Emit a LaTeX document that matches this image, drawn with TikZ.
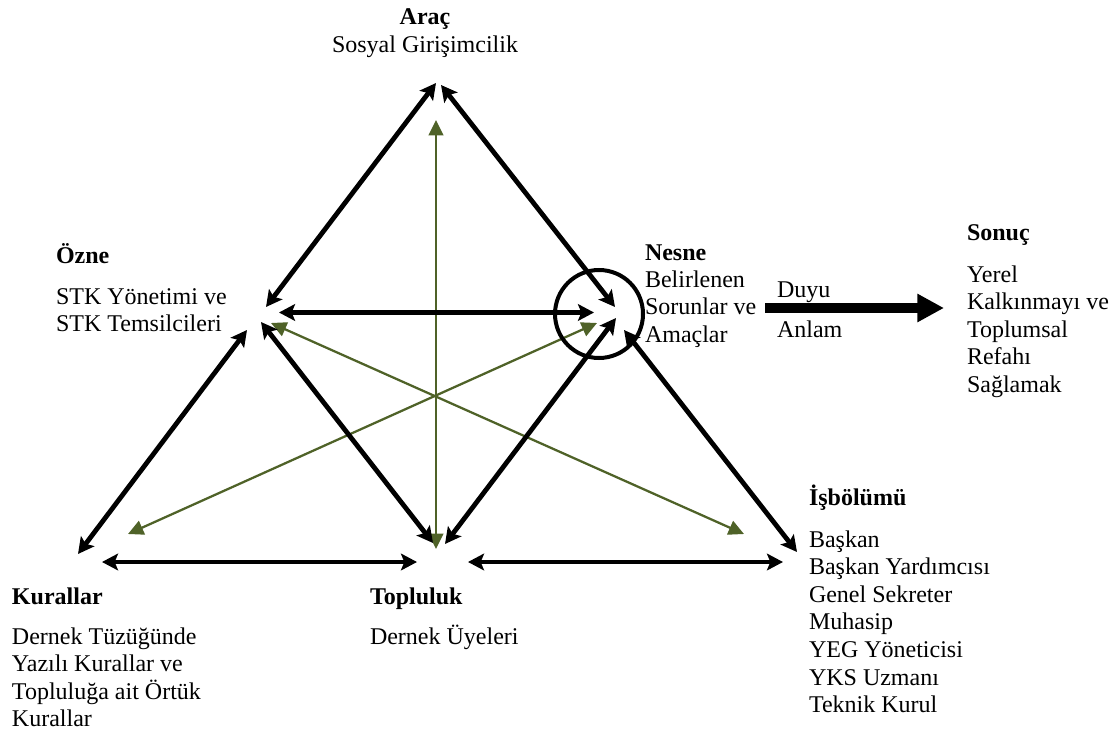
\documentclass[tikz,border=0pt]{standalone}
\usepackage{fontspec}
\setmainfont{Liberation Serif}
\usetikzlibrary{arrows.meta}
\definecolor{olivegreen}{HTML}{4F6228}
\newcommand\txtstack[1]{\begin{tabular}[t]{@{}l@{}}#1\end{tabular}}
\begin{document}
\begin{tikzpicture}[x=0.75pt,y=-0.75pt,
  lbl/.style={anchor=base west, inner sep=0pt, outer sep=0pt, font=\fontsize{18pt}{20.7pt}\selectfont},
  hdr/.style={lbl, font=\fontsize{18pt}{20.7pt}\selectfont\bfseries},
  blk/.style={line width=3.6pt, black, <->, >={Stealth[length=12pt,width=12.5pt,inset=2.5pt]}},
  grn/.style={line width=1.7pt, olivegreen, <->, >={Triangle[length=11.5pt,width=11pt]}},
  big/.style={line width=7.5pt, black, -{Triangle[length=20pt,width=20pt]}},
  ring/.style={circle, draw, line width=3pt, minimum size=66pt, inner sep=0pt}
]
\useasboundingbox (0,0) rectangle (1119,734);

% texts
\node[hdr, anchor=base] (arac) at (425,25) {Araç};
\node[lbl, anchor=base] (aracT) at (425,53) {Sosyal Girişimcilik};
\node[hdr] (ozne) at (56,263) {Özne};
\node[lbl] (ozneT) at (56,304) {\txtstack{STK Yönetimi ve\\STK Temsilcileri}};
\node[hdr] (nesne) at (645,260) {Nesne};
\node[lbl] (nesneT) at (645,287) {\txtstack{Belirlenen\\Sorunlar ve\\Amaçlar}};
\node[lbl] (duyu) at (777,297) {Duyu};
\node[lbl] (anlam) at (777,337) {Anlam};
\node[hdr] (sonuc) at (967,240) {Sonuç};
\node[lbl] (sonucT) at (967,282) {\txtstack{Yerel\\Kalkınmayı ve\\Toplumsal\\Refahı\\Sağlamak}};
\node[hdr] (kural) at (12,604) {Kurallar};
\node[lbl] (kuralT) at (12,644) {\txtstack{Dernek Tüzüğünde\\Yazılı Kurallar ve\\Topluluğa ait Örtük\\Kurallar}};
\node[hdr] (topl) at (370,604) {Topluluk};
\node[lbl] (toplT) at (370,644) {Dernek Üyeleri};
\node[hdr] (isb) at (809,505) {İşbölümü};
\node[lbl] (isbT) at (809,547) {\txtstack{Başkan\\Başkan Yardımcısı\\Genel Sekreter\\Muhasip\\YEG Yöneticisi\\YKS Uzmanı\\Teknik Kurul}};

% connector end points
\coordinate (aracL) at (436,83);
\coordinate (aracR) at (441,85);
\coordinate (ozneU) at (266,307);
\coordinate (ozneR) at (279,312.5);
\coordinate (ozneD) at (247,330);
\coordinate (ozneDR) at (261,322);
\coordinate (nesneU) at (615,307);
\coordinate (nesneL) at (594,312.5);
\coordinate (nesneDL) at (616,318);
\coordinate (nesneDR) at (624,330);
\coordinate (kurU) at (78,554);
\coordinate (kurR) at (102,562);
\coordinate (topUL) at (433,543);
\coordinate (topUR) at (445,544);
\coordinate (topL) at (417,562);
\coordinate (topR) at (468,562);
\coordinate (isbU) at (797,552);
\coordinate (isbL) at (783,562);
\coordinate (aracG) at (436,120);
\coordinate (topG) at (436,549);
\coordinate (kurG) at (128,534);
\coordinate (nesneG) at (597,323);
\coordinate (ozneG) at (271,323);
\coordinate (isbG) at (744,534);
\coordinate (duyuS) at (765,308);
\coordinate (sonucE) at (944,308);

% green connectors
\draw[grn] (aracG) -- (topG);
\draw[grn] (kurG) -- (nesneG);
\draw[grn] (ozneG) -- (isbG);

% black connectors
\draw[blk] (aracL) -- (ozneU);
\draw[blk] (aracR) -- (nesneU);
\draw[blk] (ozneR) -- (nesneL);
\draw[blk] (kurU) -- (ozneD);
\draw[blk] (ozneDR) -- (topUL);
\draw[blk] (topUR) -- (nesneDL);
\draw[blk] (nesneDR) -- (isbU);
\draw[blk] (kurR) -- (topL);
\draw[blk] (topR) -- (isbL);

% circle around object
\node[ring] (nesneRing) at (599,314) {};

% outcome arrow
\draw[big] (duyuS) -- (sonucE);
\end{tikzpicture}
\end{document}
